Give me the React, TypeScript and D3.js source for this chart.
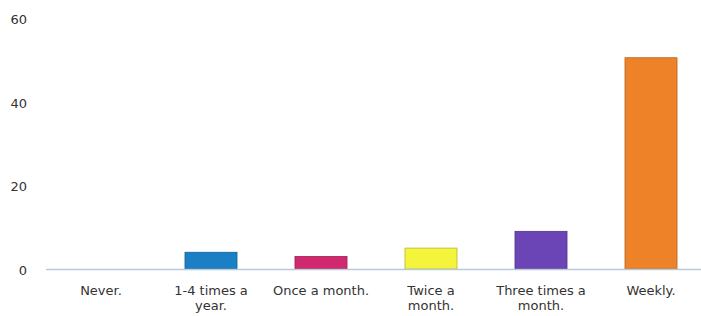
import * as d3 from "d3";
import { useEffect, useRef } from "react";

const categories = ["Never.", "1-4 times a year.", "Once a month.", "Twice a month.", "Three times a month.", "Weekly."];
const labelLines = [["Never."], ["1-4 times a", "year."], ["Once a month."], ["Twice a", "month."], ["Three times a", "month."], ["Weekly."]];
const values = [0, 4, 3, 5, 9, 50.5];
const colors = ["#1a7fc4", "#1a7fc4", "#d2286f", "#f4f43c", "#6b45b5", "#ee8228"];
const yTicks = [0, 20, 40, 60];

export default function App() {
    const ref = useRef<SVGSVGElement>(null);

    useEffect(() => {
        const width = 701;
        const height = 316;
        const margin = { top: 18, right: -5, bottom: 47, left: 46 };

        const svg = d3.select(ref.current)
            .attr('width', width)
            .attr('height', height);

        svg.selectAll('*').remove();

        const x = d3.scaleBand()
            .domain(categories)
            .range([margin.left, width - margin.right])
            .paddingInner(0.527)
            .paddingOuter(0.2635);

        const y = d3.scaleLinear()
            .domain([0, 60])
            .range([height - margin.bottom, margin.top]);

        // Y tick labels, no axis line
        svg.selectAll('.ytick')
            .data(yTicks)
            .join('text')
            .attr('x', 27)
            .attr('y', d => y(d) + 2)
            .attr('dy', '0.32em')
            .attr('text-anchor', 'end')
            .style('font-family', 'DejaVu Sans, Verdana, sans-serif')
            .style('font-size', '13px')
            .style('fill', '#333')
            .text(d => d);

        // Bars
        svg.selectAll('.bar')
            .data(categories)
            .join('rect')
            .attr('x', d => x(d)!)
            .attr('y', (d, i) => y(values[i]))
            .attr('width', x.bandwidth())
            .attr('height', (d, i) => y(0) - y(values[i]))
            .style('fill', (d, i) => colors[i])
            .style('stroke', (d, i) => d3.color(colors[i])!.darker(0.8).toString())
            .style('stroke-width', 0.8);

        // Baseline
        svg.append('line')
            .attr('x1', margin.left)
            .attr('x2', width)
            .attr('y1', y(0) + 0.5)
            .attr('y2', y(0) + 0.5)
            .style('stroke', '#b9c9dc')
            .style('stroke-width', 1.5);

        // Category labels
        const labels = svg.selectAll('.label')
            .data(categories)
            .join('text')
            .attr('text-anchor', 'middle')
            .attr('x', d => x(d)! + x.bandwidth() / 2)
            .attr('y', y(0) + 26)
            .style('font-family', 'DejaVu Sans, Verdana, sans-serif')
            .style('font-size', '13px')
            .style('fill', '#333');

        labels.each(function (d, i) {
            d3.select(this).selectAll('tspan')
                .data(labelLines[i])
                .join('tspan')
                .attr('x', x(d)! + x.bandwidth() / 2)
                .attr('dy', (t, j) => (j === 0 ? 0 : 15))
                .text(t => t);
        });
    }, []);

    return (
        <svg ref={ref} style={{ position: 'absolute', left: 0, top: 0, background: '#fff' }}></svg>
    );
}
